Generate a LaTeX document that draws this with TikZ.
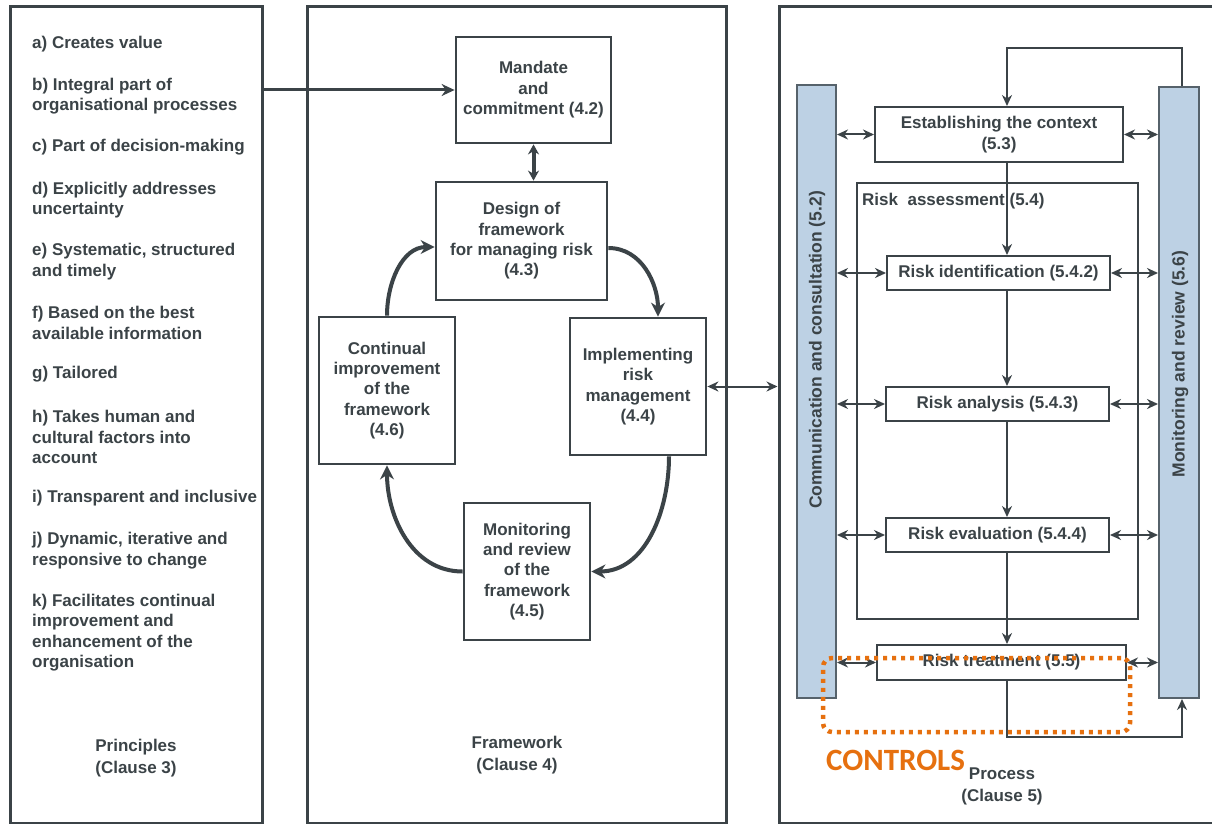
\documentclass[tikz,border=0pt]{standalone}
\usepackage{fontspec}
\setmainfont{Liberation Sans}
\newfontfamily\ctrlfont{Carlito}
\usetikzlibrary{arrows.meta,calc}
\definecolor{ink}{HTML}{3B4347}
\definecolor{barfill}{HTML}{BDD1E4}
\definecolor{barline}{HTML}{56626B}
\definecolor{ctrl}{HTML}{E6700F}
\tikzset{
  panel/.style={draw=ink, line width=3pt, inner sep=0pt},
  txt/.style={text=ink, font=\fontsize{17}{20.4}\selectfont\bfseries, inner sep=0pt},
  item/.style={txt, align=left, anchor=west, yshift=-2pt},
  clause/.style={txt, align=center, yshift=-2pt, font=\fontsize{17}{22}\selectfont\bfseries},
  fbox/.style={txt, draw=ink, line width=2.8pt, fill=white, align=center},
  pbox/.style={txt, draw=ink, line width=2pt, fill=white, align=center},
  bar/.style={draw=barline, line width=2pt, fill=barfill, inner sep=0pt},
  barlab/.style={txt, rotate=90, font=\fontsize{17.5}{20}\selectfont\bfseries},
  turn/.style={draw=ink, line width=4pt, -{Stealth[length=14pt,width=14pt]}},
  link/.style={draw=ink, line width=3pt, -{Stealth[length=13pt,width=12pt]}},
  flow/.style={draw=ink, line width=2pt, -{Stealth[length=11pt,width=10pt]}},
  both/.style={flow, {Stealth[length=11pt,width=10pt]}-{Stealth[length=11pt,width=10pt]}},
  ctrlbox/.style={draw=ctrl, line width=4.5pt, dash pattern=on 4pt off 5pt, rounded corners=9pt, inner sep=0pt},
}
\begin{document}
\begin{tikzpicture}[x=1pt,y=1pt]
  \useasboundingbox (0,0) rectangle (1212,-824);
  \clip (0,0) rectangle (1212,-824);
  \fill[white] (0,0) rectangle (1212,-824);

  % the three panels
  \node[panel, minimum width=252, minimum height=816] (princ) at (136,-415) {};
  \node[panel, minimum width=419, minimum height=816] (frame) at (516.5,-415) {};
  \node[panel, minimum width=460, minimum height=816] (proc) at (1009,-415) {};

  % principles
  \foreach \yy/\txt [count=\n] in {
      42/{a) Creates value},
      94/{b) Integral part of\\organisational processes},
      145/{c) Part of decision-making},
      198/{d) Explicitly addresses\\uncertainty},
      259.5/{e) Systematic, structured\\and timely},
      321/{f) Based on the best\\available information},
      372/{g) Tailored},
      435/{h) Takes human and\\cultural factors into\\account},
      496/{i) Transparent and inclusive},
      548.5/{j) Dynamic, iterative and\\responsive to change},
      630.5/{k) Facilitates continual\\improvement and\\enhancement of the\\organisation}}
    \node[item] (pr\n) at (32,-\yy) {\txt};
  \node[clause] (princlab) at (136,-756) {Principles\\(Clause 3)};

  % framework
  \node[fbox, minimum width=155, minimum height=106] (mandate) at (533.5,-90) {Mandate\\and\\commitment (4.2)};
  \node[fbox, minimum width=171, minimum height=118] (design) at (521.5,-241) {Design of\\framework\\for managing risk\\(4.3)};
  \node[fbox, minimum width=136, minimum height=147] (improve) at (387,-390.5) {Continual\\improvement\\of the\\framework\\(4.6)};
  \node[fbox, minimum width=136, minimum height=137] (implement) at (638,-386.5) {Implementing\\risk\\management\\(4.4)};
  \node[fbox, minimum width=126, minimum height=137] (review) at (527,-571.5) {Monitoring\\and review\\of the\\framework\\(4.5)};
  \node[clause] (framelab) at (517,-753) {Framework\\(Clause 4)};

  \draw[link] (princ.east |- mandate.west) -- (mandate.west);
  \draw[draw=ink, line width=4pt, {Stealth[length=10pt,width=11pt]}-{Stealth[length=10pt,width=11pt]}]
    (mandate.south) -- (mandate.south |- design.north);
  \draw[turn] (improve.north) to[out=90,in=180] ([yshift=-6]design.west);
  \draw[turn] ([yshift=-7]design.east) to[out=0,in=90] ([xshift=20]implement.north);
  \draw[turn] ([xshift=31]implement.south) to[out=-90,in=0] (review.east);
  \draw[turn] (review.west) to[out=180,in=-90] (improve.south);
  \draw[both] (implement.east) -- (implement.east -| proc.west);

  % process
  \node[bar, minimum width=39, minimum height=613] (consult) at (816.5,-391.5) {};
  \node[barlab] (consultlab) at (817,-350) {Communication and consultation (5.2)};
  \node[bar, minimum width=40, minimum height=611] (monitor) at (1179,-392.5) {};
  \node[barlab] (monitorlab) at (1180,-364) {Monitoring and review (5.6)};

  \node[pbox, minimum width=248, minimum height=55] (context) at (999,-134.5) {Establishing the context\\(5.3)};
  \node[draw=ink, line width=2pt, minimum width=281, minimum height=436, inner sep=0pt] (assess) at (997.5,-401) {};
  \node[txt, anchor=west, yshift=-1pt] (assesslab) at (862,-200) {Risk\ \ assessment (5.4)};
  \node[pbox, minimum width=223, minimum height=34] (identify) at (998.5,-273) {Risk identification (5.4.2)};
  \node[pbox, minimum width=223, minimum height=34] (analyse) at (997.5,-404) {Risk analysis (5.4.3)};
  \node[pbox, minimum width=223, minimum height=34] (evaluate) at (997.5,-535) {Risk evaluation (5.4.4)};
  \node[pbox, minimum width=249, minimum height=35] (treat) at (1001.5,-662.5) {Risk treatment (5.5)};
  \node[clause] (proclab) at (1002,-784) {Process\\(Clause 5)};

  \coordinate (spine) at (1007,0);
  \coordinate (top) at (1007,-48);
  \coordinate (bottom) at (1007,-737);

  \draw[flow] ([xshift=3]monitor.north) |- (top) -- (context.north -| spine);
  \draw[flow] (context.south -| spine) -- (identify.north -| spine);
  \draw[flow] (identify.south -| spine) -- (analyse.north -| spine);
  \draw[flow] (analyse.south -| spine) -- (evaluate.north -| spine);
  \draw[flow] (evaluate.south -| spine) -- (treat.north -| spine);
  \draw[flow] (treat.south -| spine) -- (bottom) -| ([xshift=3]monitor.south);

  \foreach \b in {context,identify,analyse,evaluate,treat} {
    \draw[both] (consult.east |- \b.west) -- (\b.west);
    \draw[both] (\b.east) -- (\b.east -| monitor.west);
  }

  % controls
  \node[ctrlbox, minimum width=307, minimum height=74] (ctrlzone) at (976.5,-695) {};
  \node[text=ctrl, font=\ctrlfont\fontsize{31}{31}\selectfont\bfseries, anchor=west, inner sep=0pt] (ctrllab) at (826,-760) {CONTROLS};
\end{tikzpicture}
\end{document}
